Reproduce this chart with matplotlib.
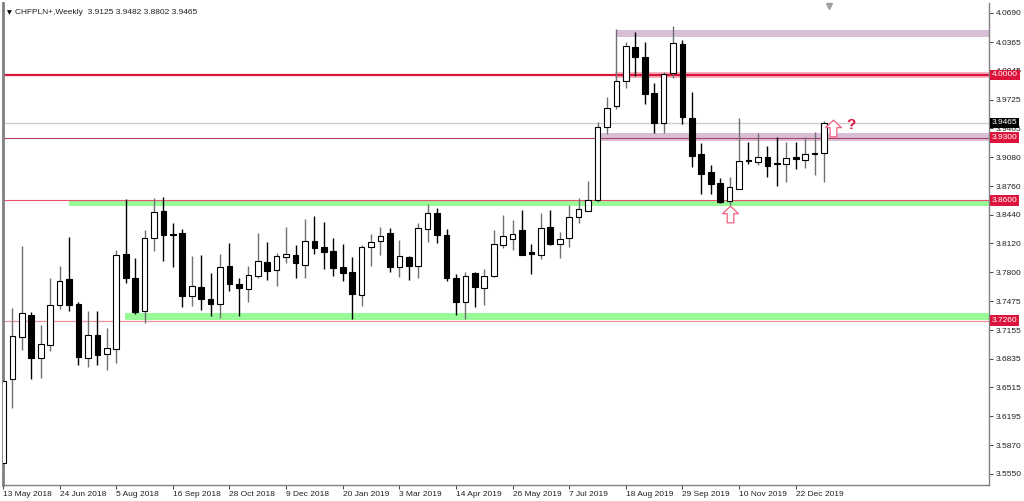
import numpy as np
import pandas as pd
import matplotlib
matplotlib.use("Agg")
import matplotlib.pyplot as plt
from matplotlib.path import Path
from matplotlib.transforms import blended_transform_factory

plt.rcParams["font.family"] = ["Liberation Sans", "DejaVu Sans"]

# weekly CHFPLN+ candles, first bar = week of 13 May 2018
opens = [3.5673, 3.6609, 3.7077, 3.7323, 3.6840, 3.6988, 3.7434, 3.7727, 3.7445, 3.6840,
         3.7100, 3.6885, 3.6940, 3.8003, 3.7732, 3.7371, 3.8185, 3.8486, 3.8229, 3.8240,
         3.7535, 3.7635, 3.7498, 3.7442, 3.7872, 3.7665, 3.7609, 3.7754, 3.7917, 3.7828,
         3.7973, 3.7992, 3.7880, 3.8148, 3.8077, 3.8036, 3.7858, 3.7799, 3.7546, 3.8084,
         3.8148, 3.8234, 3.7855, 3.7969, 3.7869, 3.8278, 3.8463, 3.8215, 3.7739, 3.7471,
         3.7788, 3.7620, 3.7758, 3.8103, 3.8170, 3.8270, 3.8020, 3.7992, 3.8301, 3.8114,
         3.8178, 3.8412, 3.8486, 3.8605, 3.9416, 3.9653, 3.9932, 4.0308, 4.0203, 3.9795,
         3.9467, 4.0024, 4.0344, 3.9523, 3.9115, 3.8920, 3.8791, 3.8597, 3.8724, 3.9051,
         3.9032, 3.9088, 3.9012, 3.9003, 3.9088, 3.9051, 3.9118, 3.9125]
highs = [3.6631, 3.7401, 3.8092, 3.7359, 3.7211, 3.7735, 3.7869, 3.8196, 3.7468, 3.7371,
         3.7371, 3.7174, 3.8047, 3.8613, 3.7955, 3.8270, 3.8624, 3.8635, 3.8345, 3.8278,
         3.7981, 3.7988, 3.7788, 3.8000, 3.8122, 3.7739, 3.7872, 3.8240, 3.8140, 3.8011,
         3.8307, 3.8103, 3.8393, 3.8427, 3.8363, 3.8178, 3.8111, 3.7966, 3.8103, 3.8223,
         3.8307, 3.8289, 3.8159, 3.7977, 3.8345, 3.8560, 3.8512, 3.8278, 3.7780, 3.7805,
         3.7805, 3.7832, 3.8270, 3.8438, 3.8382, 3.8493, 3.8111, 3.8457, 3.8493, 3.8251,
         3.8549, 3.8624, 3.8817, 3.9475, 3.9750, 4.0508, 4.0370, 4.0481, 4.0370, 3.9906,
         4.0035, 4.0545, 4.0389, 3.9812, 3.9237, 3.8995, 3.8847, 3.8865, 3.9516, 3.9255,
         3.9349, 3.9210, 3.9311, 3.9255, 3.9255, 3.9311, 3.9366, 3.9482]
lows = [3.5617, 3.6286, 3.6932, 3.6606, 3.6620, 3.6925, 3.7390, 3.7371, 3.6765, 3.6740,
        3.6765, 3.6710, 3.6784, 3.7676, 3.7334, 3.7237, 3.8040, 3.7928, 3.7855, 3.7409,
        3.7423, 3.7378, 3.7315, 3.7293, 3.7590, 3.7315, 3.7471, 3.7739, 3.7713, 3.7649,
        3.7899, 3.7739, 3.7732, 3.8000, 3.7836, 3.7761, 3.7702, 3.7278, 3.7426, 3.7872,
        3.7992, 3.7799, 3.7750, 3.7713, 3.7732, 3.8140, 3.8128, 3.7705, 3.7323, 3.7275,
        3.7415, 3.7434, 3.7750, 3.8066, 3.8047, 3.7992, 3.7780, 3.7944, 3.8103, 3.7955,
        3.8084, 3.8352, 3.8486, 3.8586, 3.9341, 3.9616, 3.9850, 3.9988, 3.9675, 3.9349,
        3.9349, 3.9962, 3.9452, 3.8976, 3.8672, 3.8672, 3.8568, 3.8549, 3.8724, 3.9006,
        3.8995, 3.8858, 3.8764, 3.8809, 3.8947, 3.8958, 3.8884, 3.8802]
closes = [3.6590, 3.7089, 3.7342, 3.6840, 3.6996, 3.7431, 3.7702, 3.7434, 3.6851, 3.7100,
          3.6877, 3.6958, 3.7988, 3.7739, 3.7359, 3.8178, 3.8474, 3.8215, 3.8211, 3.7535,
          3.7646, 3.7498, 3.7442, 3.7855, 3.7672, 3.7620, 3.7769, 3.7925, 3.7813, 3.7981,
          3.8000, 3.7906, 3.8148, 3.8073, 3.8022, 3.7843, 3.7788, 3.7554, 3.8084, 3.8133,
          3.8207, 3.7855, 3.7977, 3.7869, 3.8289, 3.8457, 3.8215, 3.7732, 3.7471, 3.7758,
          3.7638, 3.7758, 3.8114, 3.8204, 3.8223, 3.7992, 3.8003, 3.8289, 3.8114, 3.8167,
          3.8412, 3.8501, 3.8605, 3.9416, 3.9627, 3.9935, 4.0322, 4.0203, 3.9787, 3.9467,
          4.0010, 4.0352, 3.9527, 3.9096, 3.8895, 3.8783, 3.8586, 3.8747, 3.9040, 3.9037,
          3.9088, 3.8987, 3.9001, 3.9070, 3.9059, 3.9118, 3.9125, 3.9465]

# horizontal levels and zones
levels = [4.0000, 3.9300, 3.8600, 3.7260]
purple_zones = [(4.0426, 4.0500), (3.9266, 3.9355)]
green_zones = [(3.8540, 3.8603), (3.7268, 3.7343)]
last_price = 3.9465

y_ticks = [4.0690, 4.0365, 4.0045, 3.9725, 3.9405, 3.9080, 3.8760, 3.8440, 3.8120,
           3.7800, 3.7475, 3.7155, 3.6835, 3.6515, 3.6195, 3.5870, 3.5550]

dates = pd.date_range("2018-05-13", periods=len(opens), freq="7D")

CRIMSON = "#dc143c"
THISTLE = "#d8bfd8"
PALEGREEN = "#98fb98"
FS = 6.0

fig = plt.figure(figsize=(10.24, 5.01), dpi=100)
ax = fig.add_axes([3 / 1024, 16 / 501, 986 / 1024, 482 / 501])

x = np.arange(len(opens))
o = np.array(opens); h = np.array(highs); l = np.array(lows); c = np.array(closes)
up = c >= o

# zones and lines (zone start given as fraction of the plot width)
ax.axhspan(*purple_zones[0], xmin=613 / 986, xmax=1, color=THISTLE, lw=0, zorder=1)
ax.axhspan(*purple_zones[1], xmin=597 / 986, xmax=1, color=THISTLE, lw=0, zorder=1)
ax.axhspan(*green_zones[0], xmin=66 / 986, xmax=1, color=PALEGREEN, lw=0, zorder=1)
ax.axhspan(*green_zones[1], xmin=122 / 986, xmax=1, color=PALEGREEN, lw=0, zorder=1)
ax.axhspan(levels[0] - 0.0032, levels[0] + 0.0032, xmin=612 / 986, xmax=1,
           color="#f7b3c0", lw=0, zorder=1)

ax.axhline(last_price, color="#d0d0d0", lw=1, zorder=1.2)
ax.axhline(levels[0], color=CRIMSON, lw=1.6, zorder=1.5)
ax.axhline(levels[1], color="#b04060", lw=0.8, zorder=1.5)
ax.axhline(levels[2], color="#e85070", lw=0.8, zorder=1.5)
ax.axhline(levels[3], color="#f090a0", lw=0.9, zorder=1.5)

# candles
width = 0.6
ax.vlines(x[up], l[up], h[up], color="#707070", lw=1, zorder=2)
ax.vlines(x[~up], l[~up], h[~up], color="black", lw=1, zorder=2)
body_h = np.maximum(np.abs(c - o), 0.0004)
ax.bar(x[up], body_h[up], bottom=np.minimum(o, c)[up], width=width,
       color="white", edgecolor="black", linewidth=0.8, zorder=3)
ax.bar(x[~up], body_h[~up], bottom=np.minimum(o, c)[~up], width=width,
       color="black", edgecolor="black", linewidth=0.8, zorder=3)

# hollow up arrows and question mark
arrow = Path([(0, 1), (0.95, 0.1), (0.4, 0.1), (0.4, -1), (-0.4, -1), (-0.4, 0.1),
              (-0.95, 0.1), (0, 1)],
             [Path.MOVETO] + [Path.LINETO] * 6 + [Path.CLOSEPOLY])
ax.plot([x[77]], [l[77] - 0.0105], marker=arrow, ms=12, mfc="white", mec="#f06080",
        mew=0.9, ls="none", zorder=4)
ax.plot([x[-1] + 1], [c[-1] - 0.0060], marker=arrow, ms=12, mfc="white", mec="#f06080",
        mew=0.9, ls="none", zorder=4)
ax.text(x[-1] + 2.9, c[-1] - 0.002, "?", color=CRIMSON, fontsize=11, fontweight="bold",
        ha="center", va="center", zorder=4)

ax.set_xlim(0.015, 0.015 + 986 / 9.438)
ax.set_ylim(3.5427, 4.0801)

# axes styling
ax.spines["top"].set_visible(False)
for side in ["left", "right", "bottom"]:
    ax.spines[side].set_color("#808080")
    ax.spines[side].set_linewidth(1)
ax.spines["left"].set_linewidth(2)

ax.yaxis.tick_right()
ax.set_yticks(y_ticks)
ax.set_yticklabels([f"{v:.4f}" for v in y_ticks])
ax.tick_params(axis="y", direction="out", length=3, width=0.7, color="#404040",
               labelsize=FS, pad=2, labelcolor="#202020")

tick_idx = list(range(0, 85, 6))
ax.set_xticks(tick_idx)
ax.set_xticklabels([f"{dates[i].day} {dates[i].strftime('%b %Y')}" for i in tick_idx],
                   ha="left")
ax.tick_params(axis="x", direction="out", length=3, width=0.7, color="#404040",
               labelsize=FS, pad=1.5, labelcolor="#202020")

# price tags on the right axis
tr = blended_transform_factory(ax.transAxes, ax.transData)
for lv in levels:
    ax.text(1.003, lv, f"{lv:.4f}", transform=tr, ha="left", va="center", fontsize=FS,
            color="white", clip_on=False, zorder=6,
            bbox=dict(boxstyle="square,pad=0.2", fc=CRIMSON, ec="none"))
ax.text(1.003, last_price, f"{last_price:.4f}", transform=tr, ha="left", va="center",
        fontsize=FS, color="white", clip_on=False, zorder=6,
        bbox=dict(boxstyle="square,pad=0.2", fc="black", ec="none"))

# header
ax.text(0.004, 0.985, "\u25bc", transform=ax.transAxes, fontsize=4.5, va="top", ha="left",
        family="DejaVu Sans")
ax.text(0.012, 0.988, f"CHFPLN+,Weekly  {o[-1]:.4f} {h[-1]:.4f} {l[-1]:.4f} {c[-1]:.4f}",
        transform=ax.transAxes, fontsize=FS, va="top", ha="left", color="#202020")
ax.plot([0.8375], [0.993], marker="v", ms=4, color="#a0a0a0", transform=ax.transAxes,
        clip_on=False)

fig.savefig("out.png", dpi=100, facecolor="white")
